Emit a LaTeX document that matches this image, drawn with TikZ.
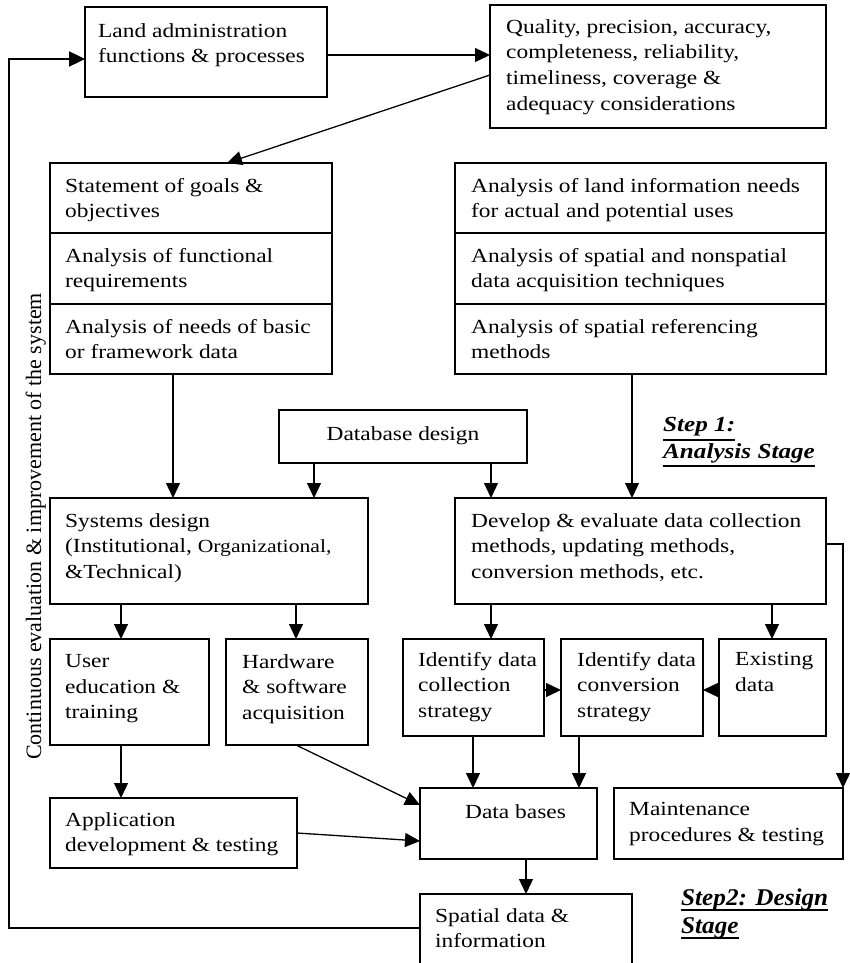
\documentclass[tikz,border=0pt]{standalone}
\usepackage{fontspec}
\setmainfont{Liberation Serif}[FakeStretch=1.17]
\newfontfamily\vertfont{Liberation Serif}
\newfontfamily\steptwofont{Liberation Serif}[FakeStretch=1.05]
\usetikzlibrary{arrows.meta,calc}
\newcommand\myul[3]{\setbox0\hbox{#3}\rlap{\rule[#1]{\wd0}{#2}}\box0}
\begin{document}
\begin{tikzpicture}[x=1pt,y=-1pt,
  box/.style={draw, line width=1.3pt, anchor=north west, inner sep=0pt, outer sep=0pt},
  openbox/.style={anchor=north west, inner sep=0pt, outer sep=0pt},
  txt/.style={anchor=north west, yshift=15pt, align=left, inner sep=0pt, font=\fontsize{20}{25.7}\selectfont, execute at begin node={\rule{0pt}{15pt}}},
  ctxt/.style={anchor=base, inner sep=0pt, font=\fontsize{20}{25.7}\selectfont},
  steptxt/.style={anchor=base west, align=left, inner sep=0pt},
  arr/.style={line width=1.3pt, -{Triangle[length=15pt,width=14pt]}},
  loopline/.style={line width=2.4pt, -{Triangle[length=16pt,width=15pt]}}
]
\useasboundingbox (0,0) rectangle (850,963);

% ---------- boxes ----------
\node[box, minimum width=242pt, minimum height=90pt] (land) at (85,7) {};
\node[box, minimum width=336pt, minimum height=123pt] (qual) at (490,5) {};
\node[box, minimum width=282pt, minimum height=70pt] (goal1) at (50,163) {};
\node[box, minimum width=282pt, minimum height=71pt] (goal2) at (50,233) {};
\node[box, minimum width=282pt, minimum height=70pt] (goal3) at (50,304) {};
\node[box, minimum width=371pt, minimum height=70pt] (ana1) at (455,163) {};
\node[box, minimum width=371pt, minimum height=71pt] (ana2) at (455,233) {};
\node[box, minimum width=371pt, minimum height=70pt] (ana3) at (455,304) {};
\node[box, minimum width=248pt, minimum height=53pt] (dbd) at (279,410) {};
\node[box, minimum width=318pt, minimum height=106pt] (sys) at (50,498) {};
\node[box, minimum width=371pt, minimum height=106pt] (dev) at (455,498) {};
\node[box, minimum width=159pt, minimum height=106pt] (user) at (50,639) {};
\node[box, minimum width=142pt, minimum height=106pt] (hw) at (226,639) {};
\node[box, minimum width=141pt, minimum height=97pt] (idc) at (403,639) {};
\node[box, minimum width=142pt, minimum height=97pt] (idv) at (561,639) {};
\node[box, minimum width=107pt, minimum height=97pt] (exist) at (719,639) {};
\node[box, minimum width=247pt, minimum height=70pt] (app) at (50,798) {};
\node[box, minimum width=177pt, minimum height=71pt] (db) at (420,788) {};
\node[box, minimum width=229pt, minimum height=71pt] (maint) at (614,788) {};
\node[openbox, minimum width=212pt, minimum height=69pt] (spatial) at (420,894) {};
\draw[line width=1.3pt] (spatial.south west) |- (spatial.north east) -- (spatial.south east);

% ---------- texts (offsets give first baseline) ----------
\node[txt] (land-t) at ($(land.north west)+(13,31)$) {Land administration\\functions \& processes};
\node[txt] (qual-t) at ($(qual.north west)+(16,29)$) {Quality, precision, accuracy,\\completeness, reliability,\\timeliness, coverage \&\\adequacy considerations};
\node[txt] (goal1-t) at ($(goal1.north west)+(15,30)$) {Statement of goals \&\\objectives};
\node[txt] (goal2-t) at ($(goal2.north west)+(15,30)$) {Analysis of functional\\requirements};
\node[txt] (goal3-t) at ($(goal3.north west)+(15,30)$) {Analysis of needs of basic\\or framework data};
\node[txt] (ana1-t) at ($(ana1.north west)+(16,30)$) {Analysis of land information needs\\for actual and potential uses};
\node[txt] (ana2-t) at ($(ana2.north west)+(16,30)$) {Analysis of spatial and nonspatial\\data acquisition techniques};
\node[txt] (ana3-t) at ($(ana3.north west)+(16,30)$) {Analysis of spatial referencing\\methods};
\node[ctxt] (dbd-t) at ($(dbd.north)+(0,30)$) {Database design};
\node[txt] (sys-t) at ($(sys.north west)+(15,30)$) {Systems design\\(Institutional, {\fontsize{18.5}{25.7}\selectfont Organizational,}\\\&Technical)};
\node[txt] (dev-t) at ($(dev.north west)+(16,30)$) {Develop \& evaluate data collection\\methods, updating methods,\\conversion methods, etc.};
\node[txt] (user-t) at ($(user.north west)+(15,30)$) {User\\education \&\\training};
\node[txt] (hw-t) at ($(hw.north west)+(16,30)$) {Hardware\\\& software\\acquisition};
\node[txt] (idc-t) at ($(idc.north west)+(15,28)$) {Identify data\\collection\\strategy};
\node[txt] (idv-t) at ($(idv.north west)+(16,28)$) {Identify data\\conversion\\strategy};
\node[txt] (exist-t) at ($(exist.north west)+(16,28)$) {Existing\\data};
\node[txt] (app-t) at ($(app.north west)+(15,29)$) {Application\\development \& testing};
\node[txt] (db-t) at ($(db.north west)+(45,30)$) {Data bases};
\node[txt] (maint-t) at ($(maint.north west)+(15,29)$) {Maintenance\\procedures \& testing};
\node[txt] (spatial-t) at ($(spatial.north west)+(15,29)$) {Spatial data \&\\information};

\node[rotate=90, anchor=base west, inner sep=0pt, font=\vertfont\fontsize{22}{26}\selectfont] (vt) at (41,760) {Continuous evaluation \& improvement of the system};

\node[steptxt, font=\bfseries\itshape\fontsize{21.5}{26.5}\selectfont] (step1) at (663,458) {\myul{-9pt}{1.8pt}{Step 1:}\\\myul{-9pt}{1.8pt}{Analysis Stage}};
\node[steptxt, font=\steptwofont\bfseries\itshape\fontsize{24}{28}\selectfont] (step2) at (681,933) {\myul{-6pt}{2pt}{Step2: Design}\\\myul{-6pt}{1.8pt}{Stage}};

% ---------- helper coordinates ----------
\coordinate (c9) at (9,0);
\coordinate (c121) at (121,0);
\coordinate (c173) at (173,0);
\coordinate (c227) at (227,0);
\coordinate (c296) at (296,0);
\coordinate (c314) at (314,0);
\coordinate (c473) at (473,0);
\coordinate (c491) at (491,0);
\coordinate (c526) at (526,0);
\coordinate (c579) at (579,0);
\coordinate (c632) at (632,0);
\coordinate (c772) at (772,0);
\coordinate (c843) at (843,0);
\coordinate (r55) at (0,55);
\coordinate (r59) at (0,59);
\coordinate (r75) at (0,75);
\coordinate (r544) at (0,544);
\coordinate (r690) at (0,690);
\coordinate (r805) at (0,805);
\coordinate (r833) at (0,833);
\coordinate (r841) at (0,841);
\coordinate (r928) at (0,928);

% ---------- connectors ----------
\draw[arr] (land.east |- r55) -- (qual.west |- r55);
\draw[arr] (qual.west |- r75) -- (goal1.north -| c227);
\draw[arr] (goal3.south -| c173) -- (sys.north -| c173);
\draw[arr] (dbd.south -| c314) -- (sys.north -| c314);
\draw[arr] (dbd.south -| c491) -- (dev.north -| c491);
\draw[arr] (ana3.south -| c632) -- (dev.north -| c632);
\draw[arr] (sys.south -| c121) -- (user.north -| c121);
\draw[arr] (sys.south -| c296) -- (hw.north -| c296);
\draw[arr] (dev.south -| c491) -- (idc.north -| c491);
\draw[arr] (dev.south -| c772) -- (exist.north -| c772);
\draw[arr] (idc.east |- r690) -- (idv.west |- r690);
\draw[arr] (exist.west |- r690) -- (idv.east |- r690);
\draw[arr] (idc.south -| c473) -- (db.north -| c473);
\draw[arr] (idv.south -| c579) -- (db.north -| c579);
\draw[arr] (dev.east |- r544) -| (maint.north east);
\draw[arr] (user.south -| c121) -- (app.north -| c121);
\draw[arr] (hw.south -| c296) -- (db.west |- r805);
\draw[arr] (app.east |- r833) -- (db.west |- r841);
\draw[arr] (db.south -| c526) -- (spatial.north -| c526);
\draw[loopline] (spatial.west |- r928) -- (c9 |- r928) -- (c9 |- r59) -- (land.west |- r59);
\end{tikzpicture}
\end{document}
